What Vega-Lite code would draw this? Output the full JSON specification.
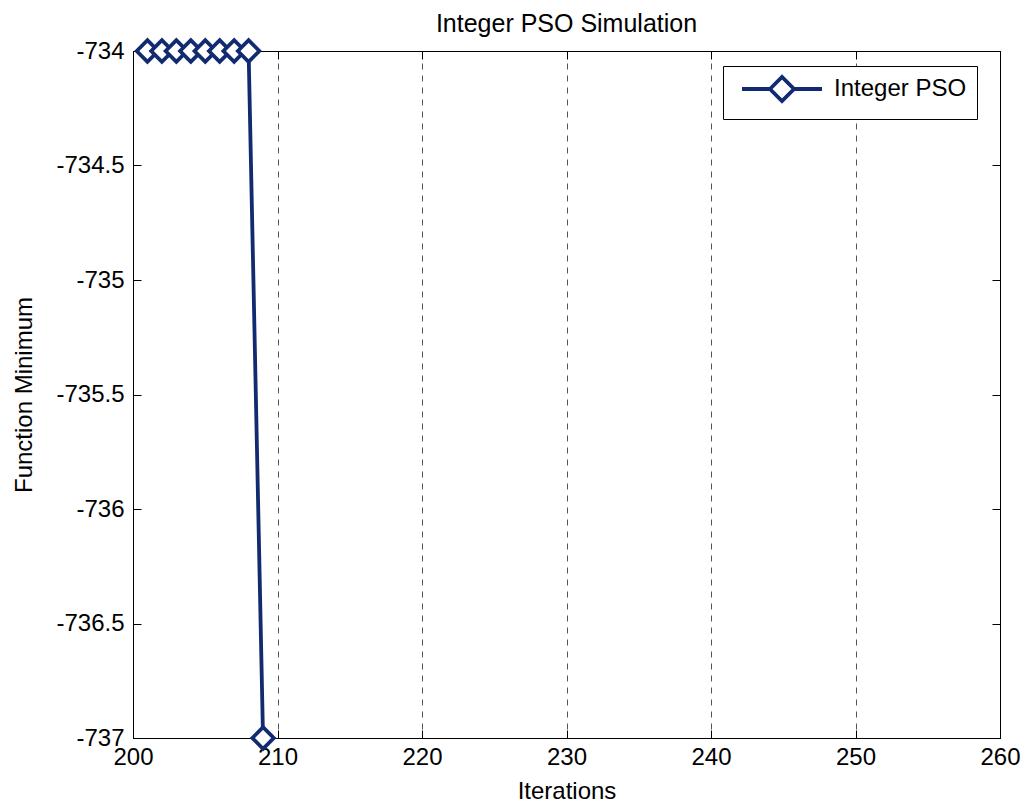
{
  "$schema": "https://vega.github.io/schema/vega-lite/v6.json",
  "autosize": "none",
  "width": 867,
  "height": 687,
  "padding": {"left": 133, "top": 51, "right": 29, "bottom": 68},
  "background": "white",
  "config": {
    "font": "Liberation Sans",
    "view": {"stroke": "black", "strokeWidth": 1},
    "axis": {"labelFont": "Liberation Sans", "titleFont": "Liberation Sans", "labelFontSize": 24, "titleFontSize": 24, "titleFontWeight": "normal", "labelColor": "black", "titleColor": "black", "domainColor": "black", "tickColor": "black", "tickSize": -8}
  },
  "title": {"text": "Integer PSO Simulation", "fontSize": 25, "fontWeight": "normal", "font": "Liberation Sans", "color": "black", "offset": -4},
  "data": {"values": [
    {"iter": 201, "val": -734, "s": "Integer PSO"},
    {"iter": 202, "val": -734, "s": "Integer PSO"},
    {"iter": 203, "val": -734, "s": "Integer PSO"},
    {"iter": 204, "val": -734, "s": "Integer PSO"},
    {"iter": 205, "val": -734, "s": "Integer PSO"},
    {"iter": 206, "val": -734, "s": "Integer PSO"},
    {"iter": 207, "val": -734, "s": "Integer PSO"},
    {"iter": 208, "val": -734, "s": "Integer PSO"},
    {"iter": 209, "val": -737, "s": "Integer PSO"}
  ]},
  "resolve": {"axis": {"x": "independent", "y": "independent"}},
  "layer": [
    {
      "mark": {"type": "line", "strokeWidth": 3.8, "clip": false},
      "encoding": {
        "x": {"field": "iter", "type": "quantitative", "scale": {"domain": [200, 260], "nice": false, "zero": false},
          "axis": {"title": "Iterations", "values": [200, 210, 220, 230, 240, 250, 260], "grid": true, "gridDash": [6, 6], "gridColor": "#555555", "gridOpacity": 1, "labelPadding": 15, "titlePadding": 10, "labelFlush": false, "domain": true}},
        "y": {"field": "val", "type": "quantitative", "scale": {"domain": [-737, -734], "nice": false, "zero": false},
          "axis": {"title": "Function Minimum", "values": [-737, -736.5, -736, -735.5, -735, -734.5, -734], "labelExpr": "'' + datum.value", "grid": false, "labelPadding": 17, "titlePadding": 19, "labelFlush": false}},
        "color": {"field": "s", "type": "nominal", "scale": {"range": ["#112a70"]},
          "legend": {"title": null, "orient": "none", "legendX": 590, "legendY": 15, "strokeColor": "black", "fillColor": "white", "padding": 10, "labelFontSize": 24, "labelFont": "Liberation Sans", "labelColor": "black", "labelOffset": 75,
            "symbolType": "M -0.364 0 L 2.182 0 M 4.364 0 L 6.909 0 M 2.182 0 L 3.273 -1.09 L 4.364 0 L 3.273 1.09 Z", "symbolSize": 484, "symbolStrokeWidth": 3.8, "symbolFillColor": "white", "symbolStrokeColor": "#112a70", "symbolOpacity": 1}}
      }
    },
    {
      "mark": {"type": "point", "shape": "diamond", "size": 460, "filled": true, "fill": "white", "stroke": "#112a70", "strokeWidth": 3.8, "opacity": 1, "clip": false},
      "encoding": {
        "x": {"field": "iter", "type": "quantitative", "scale": {"domain": [200, 260], "nice": false, "zero": false},
          "axis": {"orient": "top", "title": null, "labels": false, "values": [200, 210, 220, 230, 240, 250, 260], "grid": false}},
        "y": {"field": "val", "type": "quantitative", "scale": {"domain": [-737, -734], "nice": false, "zero": false},
          "axis": {"orient": "right", "title": null, "labels": false, "values": [-737, -736.5, -736, -735.5, -735, -734.5, -734], "grid": false}}
      }
    }
  ]
}
